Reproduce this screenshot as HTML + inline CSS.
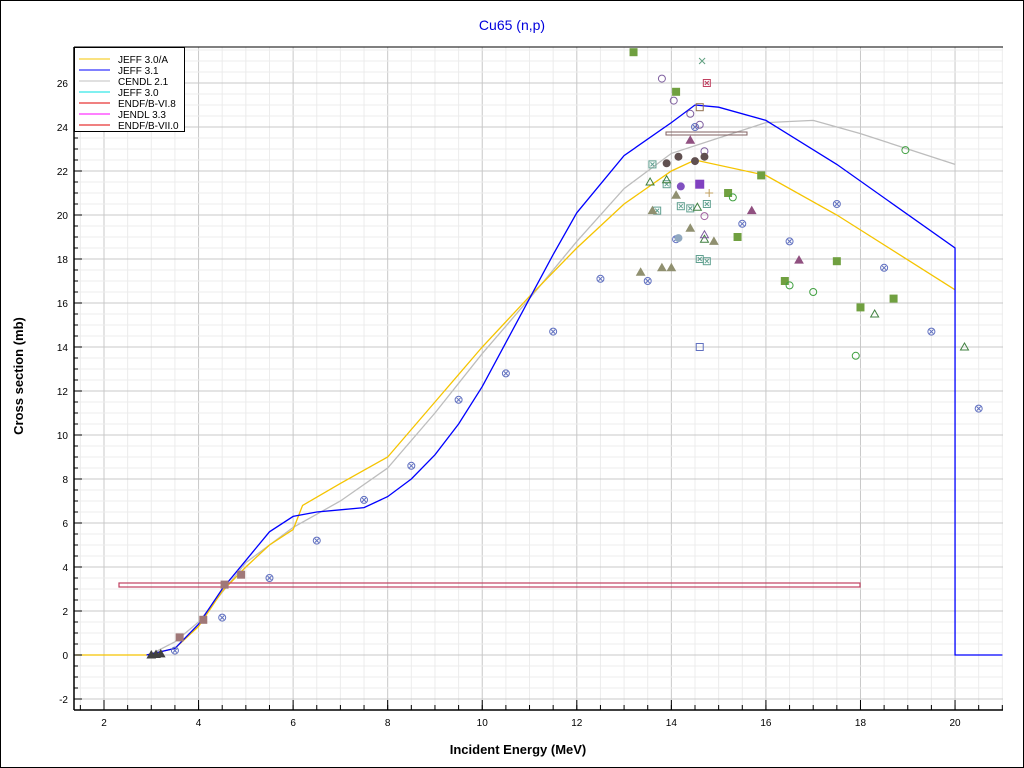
<!DOCTYPE html>
<html><head><meta charset="utf-8"><style>
body{margin:0;background:#fff;}
svg{display:block;font-family:"Liberation Sans",sans-serif;}
</style></head><body>
<svg width="1024" height="768" viewBox="0 0 1024 768" xmlns="http://www.w3.org/2000/svg">
<rect x="0" y="0" width="1024" height="768" fill="#fff"/>
<rect x="0.5" y="0.5" width="1023" height="767" fill="none" stroke="#000"/>
<text x="512" y="30" text-anchor="middle" font-size="14" fill="#0000dd">Cu65 (n,p)</text>
<g id="grid"></g>
<g id="curves"></g>
<g id="pts"></g>
<line x1="74" y1="47" x2="74" y2="710" stroke="#000" stroke-width="1.5"/>
<line x1="74" y1="710" x2="1003" y2="710" stroke="#000" stroke-width="1.5"/>
<line x1="74" y1="47" x2="1003" y2="47" stroke="#000" stroke-width="1"/>
<g id="ticks" font-size="10" fill="#000"></g>
<text x="518" y="754" text-anchor="middle" font-size="13" font-weight="bold">Incident Energy (MeV)</text>
<text transform="translate(23,376) rotate(-90)" text-anchor="middle" font-size="13" font-weight="bold">Cross section (mb)</text>
<g font-size="10">
<rect x="74.5" y="47.5" width="110" height="84" fill="#fff" stroke="#000"/>
<line x1="79" y1="59" x2="110" y2="59" stroke="#f5c400"/><text x="118" y="63">JEFF 3.0/A</text>
<line x1="79" y1="70" x2="110" y2="70" stroke="#0000ff"/><text x="118" y="74">JEFF 3.1</text>
<line x1="79" y1="81" x2="110" y2="81" stroke="#c0c0c0"/><text x="118" y="85">CENDL 2.1</text>
<line x1="79" y1="92" x2="110" y2="92" stroke="#00e0e0"/><text x="118" y="96">JEFF 3.0</text>
<line x1="79" y1="103" x2="110" y2="103" stroke="#e00000"/><text x="118" y="107">ENDF/B-VI.8</text>
<line x1="79" y1="114" x2="110" y2="114" stroke="#ff00ff"/><text x="118" y="118">JENDL 3.3</text>
<line x1="79" y1="125" x2="110" y2="125" stroke="#e00000"/><text x="118" y="129">ENDF/B-VII.0</text>
</g>
<script>
const NS="http://www.w3.org/2000/svg";
const X=e=>104+(e-2)*47.28, Y=v=>655-v*22;
function el(p,t,a){const n=document.createElementNS(NS,t);for(const k in a)n.setAttribute(k,a[k]);p.appendChild(n);return n;}
const g=document.getElementById('grid');
for(let e=1.5;e<=21;e+=0.5){const x=X(e);if(x<75||x>1003)continue;const maj=Math.abs(e-Math.round(e/2)*2)<1e-6;el(g,'line',{x1:x,y1:47,x2:x,y2:710,stroke:maj?'#c8c8c8':'#ececec'});}
for(let v=-2.5;v<=28;v+=0.5){const y=Y(v);if(y<47||y>710)continue;const maj=Math.abs(v-Math.round(v/2)*2)<1e-6;el(g,'line',{x1:74,y1:y,x2:1003,y2:y,stroke:maj?'#c8c8c8':'#ececec'});}
const tk=document.getElementById('ticks');
for(let e=2;e<=20;e+=2){el(tk,'line',{x1:X(e),y1:700,x2:X(e),y2:710,stroke:'#000'});const t=el(tk,'text',{x:X(e),y:726,'text-anchor':'middle'});t.textContent=e;}
for(let e=1.5;e<=21;e+=0.5){if(X(e)<75)continue;el(tk,'line',{x1:X(e),y1:705,x2:X(e),y2:710,stroke:'#000'});}
for(let v=-2;v<=26;v+=2){el(tk,'line',{x1:74,y1:Y(v),x2:82,y2:Y(v),stroke:'#000'});const t=el(tk,'text',{x:68,y:Y(v)+4,'text-anchor':'end'});t.textContent=v;}
for(let v=-2.5;v<=27.5;v+=0.5){if(Y(v)>710||Y(v)<47)continue;el(tk,'line',{x1:74,y1:Y(v),x2:78,y2:Y(v),stroke:'#000'});}
const c=document.getElementById('curves');
function line(pts,col){el(c,'polyline',{points:pts.map(p=>X(p[0])+','+Y(p[1])).join(' '),fill:'none',stroke:col,'stroke-width':1.3});}
line([[3,0.05],[3.5,0.6],[4,1.5],[5,4.2],[6,5.8],[7,7],[8,8.5],[9,11],[10,13.7],[11,16.2],[12,18.8],[13,21.2],[14,22.8],[15,23.5],[16,24.2],[17,24.3],[18,23.7],[20,22.3]],'#bdbdbd');
line([[1.4,0],[2.9,0],[3.5,0.3],[4,1.3],[4.5,2.9],[5,4],[5.5,5],[6,5.7],[6.2,6.8],[7,7.8],[8,9],[9,11.5],[10,14],[11,16.3],[12,18.5],[13,20.5],[14,22],[14.5,22.5],[16,21.8],[17.5,20],[20,16.6]],'#f5c400');
line([[2.9,0],[3,0.05],[3.5,0.3],[4,1.4],[4.5,3],[5,4.3],[5.5,5.6],[6,6.3],[6.5,6.5],[7,6.6],[7.5,6.7],[8,7.2],[8.5,8],[9,9.1],[9.5,10.5],[10,12.2],[10.5,14.2],[11,16.2],[11.5,18.2],[12,20.1],[13,22.7],[14,24.2],[14.5,25],[15,24.9],[16,24.3],[17.5,22.3],[20,18.5],[20,0],[21,0]],'#0000ff');
el(c,'rect',{x:119,y:583,width:741,height:4,fill:'none',stroke:'#c04060','stroke-width':1.2});
el(c,'rect',{x:666,y:132,width:81,height:3,fill:'none',stroke:'#806060','stroke-width':1});
const P=document.getElementById('pts');
function sq(e,v,col,s){el(P,'rect',{x:X(e)-s/2,y:Y(v)-s/2,width:s,height:s,fill:col});}
function osq(e,v,col){el(P,'rect',{x:X(e)-3.5,y:Y(v)-3.5,width:7,height:7,fill:'none',stroke:col});el(P,'path',{d:`M${X(e)-2},${Y(v)-2}l4,4m0,-4l-4,4`,stroke:col});}
function circ(e,v,col,fill){el(P,'circle',{cx:X(e),cy:Y(v),r:3.5,fill:fill?col:'none',stroke:col});}
function ocx(e,v,col){circ(e,v,col,false);el(P,'path',{d:`M${X(e)-2},${Y(v)-2}l4,4m0,-4l-4,4`,stroke:col});}
function tri(e,v,col,fill){const x=X(e),y=Y(v);el(P,'path',{d:`M${x},${y-4}L${x+4},${y+3}L${x-4},${y+3}Z`,fill:fill?col:'none',stroke:col});}
// green filled squares
[[13.2,27.4],[14.1,25.6],[15.2,21],[15.9,21.8],[15.4,19],[16.4,17],[17.5,17.9],[18,15.8],[18.7,16.2]].forEach(p=>sq(p[0],p[1],'#70a040',8));
// mauve squares low
[[3.6,0.8],[4.1,1.6],[4.55,3.2],[4.9,3.65]].forEach(p=>sq(p[0],p[1],'#a07878',8));
sq(14.6,21.4,'#8040c0',9);
// blue open-circle crosses
[[3.5,0.2],[4.5,1.7],[5.5,3.5],[6.5,5.2],[7.5,7.05],[8.5,8.6],[9.5,11.6],[10.5,12.8],[11.5,14.7],[12.5,17.1],[13.5,17],[14.1,18.9],[15.5,19.6],[16.5,18.8],[17.5,20.5],[18.5,17.6],[19.5,14.7],[20.5,11.2],[14.5,24]].forEach(p=>ocx(p[0],p[1],'#6070c0'));
[[13.8,26.2],[14.05,25.2],[14.4,24.6],[14.6,24.1],[14.7,22.9]].forEach(p=>circ(p[0],p[1],'#8060a0',false));
[[13.6,22.3],[13.7,20.2],[13.9,21.4],[14.2,20.4],[14.4,20.3],[14.75,20.5],[14.75,17.9],[14.6,18]].forEach(p=>osq(p[0],p[1],'#60a090'));
osq(14.75,26,'#c04060');
el(P,'rect',{x:X(14.6)-3.5,y:Y(24.9)-3.5,width:7,height:7,fill:'none',stroke:'#907050'});
el(P,'rect',{x:X(14.6)-3.5,y:Y(14)-3.5,width:7,height:7,fill:'none',stroke:'#6070c0'});
[[13.9,22.35],[14.15,22.65],[14.5,22.45],[14.7,22.65]].forEach(p=>circ(p[0],p[1],'#605050',true));
circ(14.2,21.3,'#8050c0',true);circ(14.15,18.95,'#90a8c0',true);
[[13.6,20.2],[13.35,17.4],[13.8,17.6],[14,17.6],[14.4,19.4],[14.1,20.9],[14.9,18.8]].forEach(p=>tri(p[0],p[1],'#909070',true));
[[14.4,23.4],[15.7,20.2],[16.7,17.95]].forEach(p=>tri(p[0],p[1],'#905080',true));
[[13.55,21.5],[13.9,21.6],[14.55,20.35],[14.7,18.9],[18.3,15.5],[20.2,14]].forEach(p=>tri(p[0],p[1],'#408040',false));
tri(14.7,19.1,'#8060a0',false);
[[15.3,20.8],[16.5,16.8],[17,16.5],[17.9,13.6],[18.95,22.95]].forEach(p=>circ(p[0],p[1],'#40a040',false));
circ(14.7,19.95,'#a060a0',false);
[[3.0,0],[3.1,0.02],[3.2,0.05]].forEach(p=>tri(p[0],p[1],'#404040',true));
el(P,'path',{d:`M${X(14.8)-4},${Y(21)}h8M${X(14.8)},${Y(21)-4}v8`,stroke:'#c0a060'});
el(P,'path',{d:`M${X(14.65)-3},${Y(27)-3}l6,6m0,-6l-6,6`,stroke:'#60a080'});
</script>
</svg>
</body></html>
